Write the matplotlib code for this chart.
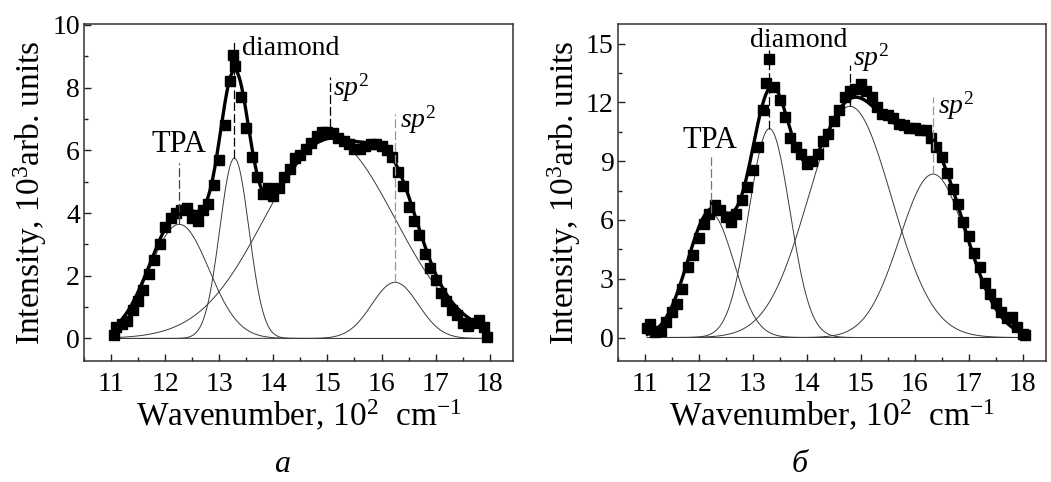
import numpy as np
import matplotlib
matplotlib.use("Agg")
import matplotlib.pyplot as plt
from matplotlib.ticker import MultipleLocator

plt.rcParams['font.family'] = ['Liberation Serif', 'DejaVu Serif']
plt.rcParams['mathtext.fontset'] = 'custom'
plt.rcParams['mathtext.rm'] = 'Liberation Serif'
plt.rcParams['mathtext.it'] = 'Liberation Serif:italic'

# ---------------- Panel a data ----------------
wn_a = [11.05, 11.1, 11.2, 11.3, 11.4, 11.5, 11.6, 11.7, 11.8, 11.9,
        12.0, 12.1, 12.2, 12.3, 12.4, 12.5, 12.6, 12.7, 12.8, 12.9,
        13.0, 13.1, 13.2, 13.25, 13.3, 13.4, 13.5, 13.6, 13.7, 13.8, 13.9,
        14.0, 14.1, 14.2, 14.3, 14.4, 14.5, 14.6, 14.7, 14.8, 14.9,
        15.0, 15.1, 15.2, 15.3, 15.4, 15.5, 15.6, 15.7, 15.8, 15.9,
        16.0, 16.1, 16.2, 16.3, 16.4, 16.5, 16.6, 16.7, 16.8, 16.9,
        17.0, 17.1, 17.2, 17.3, 17.4, 17.5, 17.6, 17.7, 17.8, 17.9, 17.95]
int_a = [0.1, 0.35, 0.45, 0.55, 0.9, 1.2, 1.55, 2.05, 2.5, 3.0,
         3.55, 3.85, 4.0, 4.1, 4.15, 3.85, 3.75, 4.1, 4.3, 4.9,
         5.7, 6.8, 8.2, 9.05, 8.7, 7.7, 6.7, 5.8, 5.15, 4.6, 4.8,
         4.55, 4.8, 5.15, 5.4, 5.75, 5.85, 6.05, 6.25, 6.45, 6.6,
         6.6, 6.55, 6.4, 6.3, 6.2, 6.05, 6.05, 6.15, 6.2, 6.2,
         6.15, 6.0, 5.8, 5.3, 4.85, 4.2, 3.75, 3.3, 2.7, 2.25,
         1.85, 1.45, 1.2, 0.9, 0.75, 0.5, 0.4, 0.5, 0.6, 0.35, 0.05]
# fitted Gaussian components: centre, height, sigma
peak_centre_a = [12.26, 13.28, 15.04, 16.25]
peak_height_a = [3.64, 5.75, 6.35, 1.79]
peak_sigma_a = [0.55, 0.27, 1.2, 0.43]

# ---------------- Panel b data ----------------
wn_b = [11.05, 11.1, 11.2, 11.3, 11.4, 11.5, 11.6, 11.7, 11.8, 11.9,
        12.0, 12.1, 12.2, 12.3, 12.4, 12.5, 12.6, 12.7, 12.8, 12.9,
        13.0, 13.1, 13.2, 13.25, 13.3, 13.4, 13.5, 13.6, 13.7, 13.8, 13.9,
        14.0, 14.1, 14.2, 14.3, 14.4, 14.5, 14.6, 14.7, 14.8, 14.9,
        15.0, 15.1, 15.2, 15.3, 15.4, 15.5, 15.6, 15.7, 15.8, 15.9,
        16.0, 16.1, 16.2, 16.3, 16.4, 16.5, 16.6, 16.7, 16.8, 16.9,
        17.0, 17.1, 17.2, 17.3, 17.4, 17.5, 17.6, 17.7, 17.8, 17.9, 18.0, 18.05]
int_b = [0.5, 0.7, 0.3, 0.35, 0.8, 1.3, 1.7, 2.5, 3.6, 4.2,
         5.1, 5.8, 6.3, 6.75, 6.5, 6.15, 5.9, 6.3, 7.0, 7.7,
         8.55, 9.7, 11.6, 13.0, 14.2, 12.8, 12.1, 11.25, 10.2, 9.7, 9.35,
         8.85, 9.0, 9.35, 10.05, 10.4, 11.05, 11.6, 12.25, 12.6, 12.7,
         12.95, 12.6, 12.25, 11.75, 11.4, 11.35, 11.2, 10.9, 10.85, 10.7,
         10.7, 10.6, 10.6, 10.2, 9.7, 9.2, 8.4, 7.6, 6.8, 5.9,
         5.2, 4.3, 3.6, 2.8, 2.2, 1.75, 1.3, 1.0, 1.05, 0.55, 0.2, 0.15]
peak_centre_b = [12.22, 13.31, 14.80, 16.34]
peak_height_b = [6.35, 10.66, 11.8, 8.34]
peak_sigma_b = [0.43, 0.38, 0.77, 0.62]

xlabel = 'Wavenumber, 10$^{2}$  cm$^{-1}$'
ylabel = 'Intensity, 10$^{3}$arb. units'
names = ['TPA', 'diamond', '$sp^{2}$', '$sp^{2}$']


def gauss(x, c, h, s):
    return h * np.exp(-(x - c) ** 2 / (2 * s ** 2))


fig = plt.figure(figsize=(10.51, 4.82), dpi=100)
ax_a = fig.add_axes([0.0799, 0.2510, 0.4082, 0.6992])
ax_b = fig.add_axes([0.5877, 0.2510, 0.4075, 0.6992])


def draw(ax, wn, inten, cen, hei, sig, xr, ylim, ymaj, ymin,
         marks, labels):
    xs = np.linspace(xr[0], xr[1], 600)
    total = np.zeros_like(xs)
    for c, h, s in zip(cen, hei, sig):
        comp = gauss(xs, c, h, s)
        total += comp
        ax.plot(xs, comp, color='#3a3a3a', lw=0.7, zorder=2)
    ax.plot(wn, inten, 's', color='black', ms=6.6, mec='black', zorder=3)
    ax.plot(xs, total, color='black', lw=2.4, zorder=4)
    for (xm, y0, y1, col) in marks:
        ax.plot([xm, xm], [y0, y1], color=col, lw=0.9,
                dashes=(7, 2.5), zorder=5)
    for (txt, tx, ty, ha, fs) in labels:
        ax.text(tx, ty, txt, ha=ha, va='baseline', fontsize=fs, zorder=6)
    ax.set_xlim(10.5, 18.43)
    ax.set_ylim(*ylim)
    ax.xaxis.set_major_locator(MultipleLocator(1))
    ax.xaxis.set_minor_locator(MultipleLocator(0.5))
    ax.yaxis.set_major_locator(MultipleLocator(ymaj))
    ax.yaxis.set_minor_locator(MultipleLocator(ymin))
    ax.tick_params(which='both', direction='in', top=False, right=False,
                   labelsize=20, colors='#222222', labelcolor='black')
    ax.tick_params(which='major', length=5, width=1.0)
    ax.tick_params(which='minor', length=2.8, width=1.0)
    ax.tick_params(axis='x', pad=8)
    ax.tick_params(axis='y', pad=3)
    for sp in ax.spines.values():
        sp.set_color('#333333')
        sp.set_linewidth(1.1)
    ax.set_xlabel(xlabel, fontsize=24, labelpad=1)
    ax.set_ylabel(ylabel, fontsize=24, labelpad=2)


draw(ax_a, wn_a, int_a, peak_centre_a, peak_height_a, peak_sigma_a,
     (11.05, 17.95), (-0.72, 10.03), 2, 1,
     [(12.26, 3.64, 5.6, '#444444'), (13.28, 5.75, 9.45, 'black'),
      (15.04, 6.35, 8.35, 'black'), (16.25, 1.79, 7.17, '#999999')],
     [('TPA', 12.26, 5.95, 'center', 22), ('diamond', 13.42, 9.04, 'left', 20),
      (names[2], 15.1, 7.75, 'left', 20), (names[3], 16.34, 6.73, 'left', 20)])

draw(ax_b, wn_b, int_b, peak_centre_b, peak_height_b, peak_sigma_b,
     (11.05, 18.05), (-1.2, 16.0), 3, 1.5,
     [(12.22, 6.35, 9.2, '#777777'), (13.31, 10.66, 14.65, 'black'),
      (14.80, 11.8, 13.9, 'black'), (16.34, 8.34, 12.3, '#999999')],
     [('TPA', 12.2, 9.66, 'center', 22), ('diamond', 12.95, 14.82, 'left', 20),
      (names[2], 14.86, 13.9, 'left', 20), (names[3], 16.43, 11.45, 'left', 20)])

fig.text(282 / 1051, 1 - 465 / 482, 'a', ha='center', va='center',
         fontsize=23, style='italic')
fig.text(800 / 1051, 1 - 465 / 482, 'б', ha='center', va='center',
         fontsize=23, style='italic')

fig.savefig('out.png', dpi=100)
